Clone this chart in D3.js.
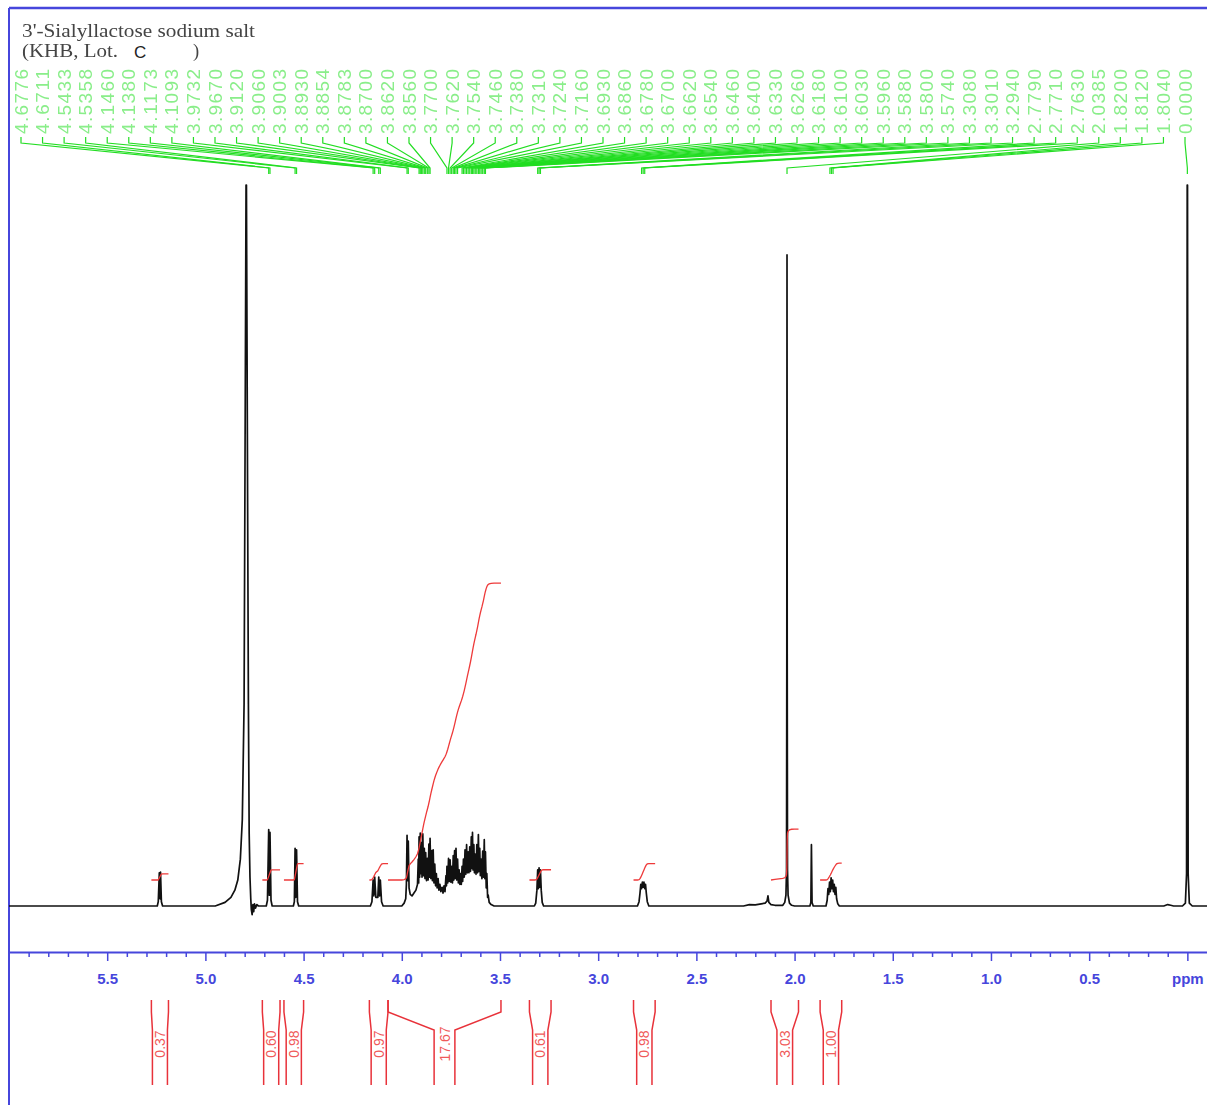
<!DOCTYPE html>
<html><head><meta charset="utf-8">
<script src="https://cdnjs.cloudflare.com/ajax/libs/d3/7.8.5/d3.min.js"></script>
<style>body{margin:0;background:#fff;}svg{display:block;}</style>
</head><body>
<svg id="c" width="1207" height="1105"></svg>
<script>
// ---------------- DATA ----------------
const titleLine1 = "3'-Sialyllactose sodium salt";
const titleLine2 = "(KHB, Lot.";
const lotText = "C";
const lotClose = ")";

const xDomain = [6.0, -0.1];
const majorTicks = [5.5, 5.0, 4.5, 4.0, 3.5, 3.0, 2.5, 2.0, 1.5, 1.0, 0.5, 0.0];
const tickLabels = ["5.5", "5.0", "4.5", "4.0", "3.5", "3.0", "2.5", "2.0", "1.5", "1.0", "0.5", "ppm"];

// spectrum points [ppm, relative intensity] (solvent peak = 100)
const spectrum = [
[6.00,0],[5.30,0],[5.245,0],[5.240,0.6],[5.2346,4.6],[5.231,1.0],[5.2285,4.7],[5.224,0.6],[5.218,0],
[4.95,0],[4.90,0.5],[4.87,1.2],[4.85,2.2],[4.835,3.6],[4.822,6.5],[4.812,12],[4.803,28],[4.799,56],[4.793,100],[4.791,100],[4.785,56],[4.781,28],[4.777,10],[4.773,4],[4.769,1],[4.766,-0.5],[4.762,-1.2],[4.758,0.2],[4.754,-0.8],[4.750,0.3],[4.745,-0.3],[4.738,0.2],[4.730,0],
[4.690,0],[4.684,0.8],[4.6776,10.6],[4.6745,1.5],[4.6711,10.2],[4.666,0.8],[4.660,0],
[4.552,0],[4.547,0.6],[4.5433,8.0],[4.5395,1.2],[4.5358,7.8],[4.531,0.6],[4.525,0],
[4.160,0],[4.152,0.6],[4.1460,3.6],[4.142,1.4],[4.1380,4.0],[4.132,1.2],[4.122,1.2],[4.1173,4.0],[4.113,1.4],[4.1093,3.6],[4.103,0.6],[4.095,0],
[4.000,0],[3.988,0.4],[3.980,1.0],[3.9765,3.0],[3.9732,9.8],[3.970,3.5],[3.9670,9.0],[3.963,2.5],[3.957,1.6],[3.948,1.4],[3.938,1.8],[3.928,2.2],[3.920,3.0],
[3.9160,6.5],[3.914,3.2],[3.9120,9.6],[3.909,4.0],[3.9060,10.1],[3.903,4.5],[3.9003,8.8],[3.897,4.0],[3.8930,10.0],[3.889,4.2],[3.8854,8.0],[3.882,3.8],[3.8783,7.4],[3.874,3.5],[3.8700,6.6],[3.866,3.6],[3.8620,8.6],[3.859,4.0],[3.8560,9.4],[3.852,3.8],[3.8480,7.7],[3.844,3.5],[3.8402,7.8],[3.836,3.2],[3.8320,5.8],[3.828,2.8],[3.8240,4.5],[3.820,2.5],[3.8150,3.8],[3.811,2.2],[3.8060,3.0],[3.801,2.0],[3.795,2.6],[3.790,1.8],[3.785,2.8],[3.780,2.0],
[3.7750,4.2],[3.7725,2.8],[3.7700,5.5],[3.766,3.2],[3.7620,6.6],[3.758,3.4],[3.7540,6.4],[3.750,3.3],[3.7460,5.5],[3.742,3.2],[3.7380,7.0],[3.735,3.6],[3.7310,7.7],[3.728,3.8],[3.7240,8.0],[3.720,3.6],[3.7160,6.5],[3.712,3.2],[3.7080,5.0],[3.704,3.0],[3.7000,4.5],[3.697,3.0],[3.6930,5.5],[3.690,3.4],
[3.6860,6.5],[3.682,4.0],[3.6780,7.8],[3.674,4.4],[3.6700,8.5],[3.666,4.6],[3.6620,7.5],[3.658,4.6],[3.6540,8.2],[3.650,4.8],[3.6460,9.6],[3.643,5.2],[3.6400,10.2],[3.637,5.0],[3.6330,8.5],[3.630,4.6],[3.6260,7.2],[3.622,4.4],[3.6180,8.5],[3.614,4.6],[3.6100,9.9],[3.6065,4.8],[3.6030,8.0],[3.600,4.2],[3.5960,6.5],[3.592,3.8],[3.5880,7.6],[3.584,4.0],[3.5800,9.2],[3.577,3.8],[3.5740,7.5],[3.570,2.5],[3.5670,4.5],[3.563,1.2],[3.5600,1.5],[3.555,0.5],[3.545,0.2],[3.530,0],
[3.325,0],[3.318,0.4],[3.312,2.2],[3.3080,5.0],[3.3045,2.4],[3.3010,5.3],[3.2975,2.6],[3.2940,5.0],[3.290,2.2],[3.285,0.5],[3.278,0],
[2.800,0],[2.792,0.6],[2.787,1.8],[2.7830,3.0],[2.779,2.4],[2.7750,3.3],[2.771,2.6],[2.7670,3.3],[2.763,2.4],[2.7590,3.0],[2.755,1.8],[2.750,0.6],[2.742,0],
[2.26,0],[2.23,0.2],[2.20,0.15],[2.17,0.3],[2.150,0.4],[2.140,0.7],[2.1355,1.4],[2.131,0.5],[2.120,0.2],[2.100,0.1],
[2.060,0.1],[2.050,0.5],[2.044,1.5],[2.041,5],[2.0395,35.5],[2.0385,90.3],[2.0375,35],[2.036,5],[2.033,1.5],[2.026,0.4],[2.015,0.1],[2.000,0],
[1.922,0],[1.917,0.5],[1.9142,8.5],[1.911,0.5],[1.905,0],
[1.840,0],[1.834,0.8],[1.830,2.4],[1.826,1.6],[1.822,3.3],[1.818,2.0],[1.814,3.9],[1.810,2.4],[1.806,3.6],[1.802,2.0],[1.798,3.0],[1.794,1.6],[1.790,2.6],[1.786,1.0],[1.780,0.3],[1.772,0],
[1.00,0],[0.12,0],[0.10,0.2],[0.085,0.1],[0.07,0],[0.025,0],[0.010,0.4],[0.004,4.5],[0.0008,100],[-0.0008,100],[-0.004,4.5],[-0.010,0.4],[-0.025,0],[-0.1,0]
];

// peak pick labels (ppm)
const peakLabels = [
4.6776,4.6711,4.5433,4.5358,4.1460,4.1380,4.1173,4.1093,3.9732,3.9670,
3.9120,3.9060,3.9003,3.8930,3.8854,3.8783,3.8700,3.8620,3.8560,
3.7700,3.7620,3.7540,3.7460,3.7380,3.7310,3.7240,3.7160,3.6930,3.6860,
3.6780,3.6700,3.6620,3.6540,3.6460,3.6400,3.6330,3.6260,3.6180,3.6100,
3.6030,3.5960,3.5880,3.5800,3.5740,3.3080,3.3010,3.2940,2.7790,2.7710,
2.7630,2.0385,1.8200,1.8120,1.8040,0.0000
];

// integral regions [from ppm, to ppm] and their values
const integralRegions = [[5.275,5.188],[4.71,4.62],[4.60,4.50],[4.165,4.07],[4.07,3.495],[3.35,3.24],[2.82,2.71],[2.12,1.98],[1.87,1.76]];
const integralValues = ["0.37","0.60","0.98","0.97","17.67","0.61","0.98","3.03","1.00"];

// ---------------- DRAW ----------------
const svg = d3.select('#c');
const BLUE = '#4646dc', RED = '#e8323a', GREEN = '#22dd22';
const x = d3.scaleLinear().domain(xDomain).range([9, 1207]);
const y = d3.scaleLinear().domain([0, 100]).range([906, 185]);
const yInt = d3.scaleLinear().domain([0, 18]).range([880, 577.6]);

const defs = svg.append('defs');
defs.append('filter').attr('id', 'soft').append('feGaussianBlur').attr('stdDeviation', 0.55);

// frame
svg.append('line').attr('x1', 9).attr('x2', 1207).attr('y1', 8).attr('y2', 8).attr('stroke', BLUE).attr('stroke-width', 2.5);
svg.append('line').attr('x1', 9).attr('x2', 9).attr('y1', 8).attr('y2', 1105).attr('stroke', BLUE).attr('stroke-width', 2);

// title
const serif = 'Liberation Serif, Times New Roman, serif';
svg.append('text').attr('x', 22).attr('y', 37).attr('font-family', serif)
  .attr('font-size', 18.5).attr('fill', '#444').attr('textLength', 233).attr('lengthAdjust', 'spacingAndGlyphs')
  .attr('filter', 'url(#soft)').text(titleLine1);
svg.append('text').attr('x', 22).attr('y', 57).attr('font-family', serif)
  .attr('font-size', 18.5).attr('fill', '#444').attr('textLength', 96).attr('lengthAdjust', 'spacingAndGlyphs')
  .attr('filter', 'url(#soft)').text(titleLine2);
svg.append('text').attr('x', 134).attr('y', 58).attr('font-family', 'Liberation Sans, Arial, sans-serif')
  .attr('font-size', 17).attr('fill', '#222').text(lotText);
svg.append('text').attr('x', 193).attr('y', 57).attr('font-family', serif)
  .attr('font-size', 18.5).attr('fill', '#444').attr('filter', 'url(#soft)').text(lotClose);

// peak labels
const n = peakLabels.length;
const lx = i => 21 + i * (1185 - 21) / (n - 1);
const gp = svg.append('g');
gp.append('g').attr('filter', 'url(#soft)').selectAll('text').data(peakLabels).join('text')
  .attr('transform', (d, i) => `translate(${lx(i) + 6.5},134) rotate(-90)`)
  .attr('font-family', 'Liberation Sans, Arial, sans-serif').attr('font-size', 19)
  .attr('textLength', 65).attr('lengthAdjust', 'spacing')
  .attr('fill', '#8aee8a').text(d => d.toFixed(4));
const leader = d3.line();
gp.append('g').selectAll('path').data(peakLabels).join('path')
  .attr('d', (d, i) => leader([[lx(i), 137], [lx(i), 143], [x(d), 168], [x(d), 174]]))
  .attr('fill', 'none').attr('stroke', GREEN).attr('stroke-width', 1.2);

// spectrum
const line = d3.line().x(d => x(d[0])).y(d => y(d[1]));
svg.append('path').datum(spectrum).attr('d', line).attr('fill', 'none')
  .attr('stroke', '#111').attr('stroke-width', 1.7).attr('stroke-linejoin', 'round');

// integral curves
function interp(p) {
  for (let i = 1; i < spectrum.length; i++) {
    const a = spectrum[i - 1], b = spectrum[i];
    if (p <= a[0] && p >= b[0]) { const t = (a[0] - p) / (a[0] - b[0] || 1); return a[1] + t * (b[1] - a[1]); }
  }
  return 0;
}
integralRegions.forEach((r, k) => {
  const pts = [[r[0], interp(r[0])]].concat(spectrum.filter(p => p[0] < r[0] && p[0] > r[1]), [[r[1], interp(r[1])]]);
  const cum = [0];
  for (let i = 1; i < pts.length; i++) cum.push(cum[i - 1] + (pts[i - 1][0] - pts[i][0]) * (Math.max(0, pts[i - 1][1]) + Math.max(0, pts[i][1])) / 2);
  const tot = cum[cum.length - 1], val = +integralValues[k];
  const curve = pts.map((p, i) => [p[0], cum[i] / tot * val]);
  svg.append('path').datum(curve).attr('d', d3.line().x(d => x(d[0])).y(d => yInt(d[1])))
    .attr('fill', 'none').attr('stroke', '#ee3a3a').attr('stroke-width', 1.3);
});

// axis
const ax = svg.append('g').attr('transform', 'translate(0,952)');
ax.call(d3.axisBottom(x).tickValues(majorTicks).tickFormat((d, i) => tickLabels[i]).tickSize(9).tickSizeOuter(0).tickPadding(12));
const minor = d3.range(1, 60).map(v => v / 10).filter(v => Math.abs(v * 2 - Math.round(v * 2)) > 1e-6);
const ax2 = svg.append('g').attr('transform', 'translate(0,952)');
ax2.call(d3.axisBottom(x).tickValues(minor).tickFormat('').tickSize(5).tickSizeOuter(0));
ax2.select('.domain').remove();
[ax, ax2].forEach(g => {
  g.selectAll('.domain').attr('stroke', BLUE).attr('stroke-width', 2);
  g.selectAll('.tick line').attr('stroke', BLUE).attr('stroke-width', 1.5);
});
ax.selectAll('.tick text').attr('fill', BLUE).attr('font-family', 'Liberation Sans, Arial, sans-serif')
  .attr('font-size', 15).attr('font-weight', 'bold');

// bottom integral brackets
const gi = svg.append('g');
integralRegions.forEach((r, k) => {
  const xa = x(r[0]), xb = x(r[1]), c = (xa + xb) / 2, half = (xb - xa) / 2;
  const hw = Math.min(half, 7 + half * 0.06);
  const il = c - hw, ir = c + hw;
  const bl = d3.line();
  gi.append('path').attr('d', bl([[xa, 1000], [xa, 1012], [il, 1030], [il, 1085]]))
    .attr('fill', 'none').attr('stroke', RED).attr('stroke-width', 1.5);
  gi.append('path').attr('d', bl([[xb, 1000], [xb, 1012], [ir, 1030], [ir, 1085]]))
    .attr('fill', 'none').attr('stroke', RED).attr('stroke-width', 1.5);
  gi.append('text').attr('transform', `translate(${c + 5},1044) rotate(-90)`)
    .attr('text-anchor', 'middle').attr('font-family', 'Liberation Sans, Arial, sans-serif')
    .attr('font-size', 14).attr('fill', '#f05a5a').text(integralValues[k]);
});
</script>
</body></html>
